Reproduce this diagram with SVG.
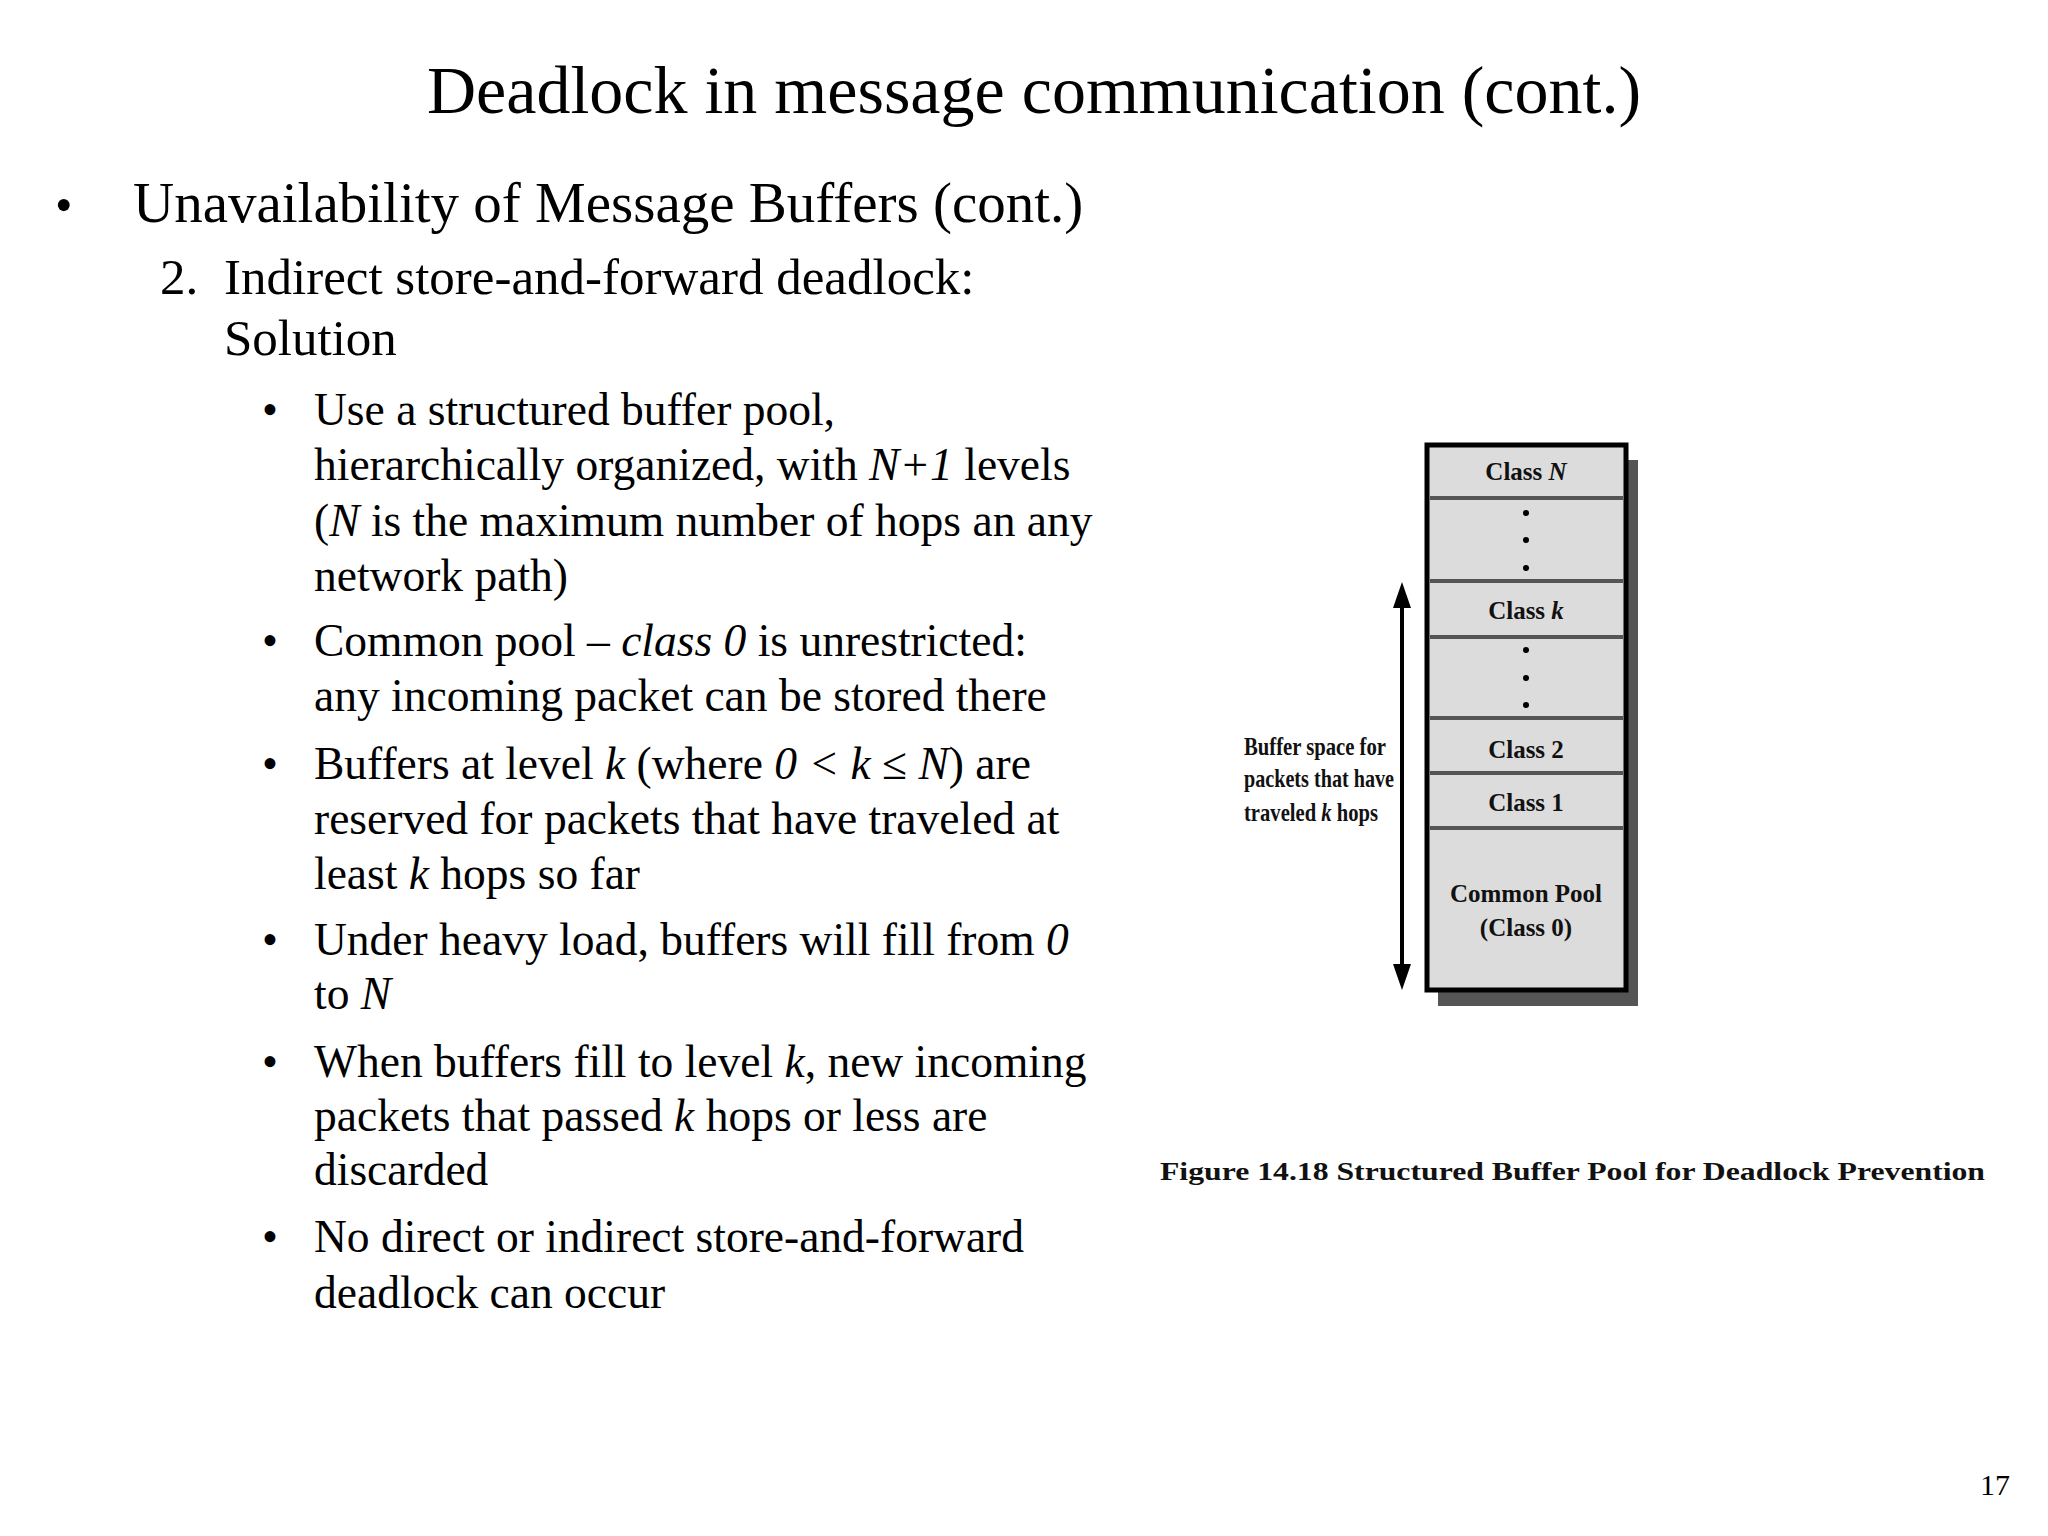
<svg xmlns="http://www.w3.org/2000/svg" width="2048" height="1536" viewBox="0 0 2048 1536">
<style>
.t{font-family:"Liberation Serif","Times New Roman",serif;fill:#000}
.b{font-size:45.5px}
.f{font-family:"Liberation Serif",serif;font-weight:bold;font-size:25px;fill:#111}
.sep{stroke:#555;stroke-width:4}
</style>
<rect width="2048" height="1536" fill="#fff"/>
<text class="t" x="1034" y="113" font-size="68" text-anchor="middle">Deadlock in message communication (cont.)</text>
<text class="t" x="55" y="222" font-size="50">•</text>
<text class="t" x="133" y="222" font-size="57">Unavailability of Message Buffers (cont.)</text>
<g class="t" font-size="51">
<text x="160" y="294">2.</text>
<text x="224" y="294">Indirect store-and-forward deadlock:</text>
<text x="224" y="355">Solution</text>
</g>
<g class="t b">
<text x="262" y="425">•</text><text x="314" y="425">Use a structured buffer pool,</text>
<text x="314" y="480">hierarchically organized, with <tspan font-style="italic">N+1</tspan> levels</text>
<text x="314" y="536">(<tspan font-style="italic">N</tspan> is the maximum number of hops an any</text>
<text x="314" y="591">network path)</text>
<text x="262" y="656">•</text><text x="314" y="656">Common pool – <tspan font-style="italic">class 0</tspan> is unrestricted:</text>
<text x="314" y="711">any incoming packet can be stored there</text>
<text x="262" y="779">•</text><text x="314" y="779">Buffers at level <tspan font-style="italic">k</tspan> (where <tspan font-style="italic">0 &lt; k </tspan>≤<tspan font-style="italic"> N</tspan>) are</text>
<text x="314" y="834">reserved for packets that have traveled at</text>
<text x="314" y="889">least <tspan font-style="italic">k</tspan> hops so far</text>
<text x="262" y="955">•</text><text x="314" y="955">Under heavy load, buffers will fill from <tspan font-style="italic">0</tspan></text>
<text x="314" y="1009">to <tspan font-style="italic">N</tspan></text>
<text x="262" y="1077">•</text><text x="314" y="1077">When buffers fill to level <tspan font-style="italic">k</tspan>, new incoming</text>
<text x="314" y="1131">packets that passed <tspan font-style="italic">k</tspan> hops or less are</text>
<text x="314" y="1185">discarded</text>
<text x="262" y="1252">•</text><text x="314" y="1252">No direct or indirect store-and-forward</text>
<text x="314" y="1308">deadlock can occur</text>
</g>
<g transform="translate(-14,-6)">
<g id="pool">
<rect x="1452" y="466" width="200" height="546" fill="#555"/>
<rect x="1441" y="451" width="199" height="545" fill="#dcdcdc" stroke="#000" stroke-width="5"/>
<line class="sep" x1="1444" y1="504" x2="1637" y2="504"/>
<line class="sep" x1="1444" y1="587" x2="1637" y2="587"/>
<line class="sep" x1="1444" y1="643" x2="1637" y2="643"/>
<line class="sep" x1="1444" y1="724" x2="1637" y2="724"/>
<line class="sep" x1="1444" y1="779" x2="1637" y2="779"/>
<line class="sep" x1="1444" y1="834" x2="1637" y2="834"/>
<g class="f" text-anchor="middle">
<text x="1540" y="486">Class <tspan font-style="italic">N</tspan></text>
<text x="1540" y="625">Class <tspan font-style="italic">k</tspan></text>
<text x="1540" y="764">Class 2</text>
<text x="1540" y="817">Class 1</text>
<text x="1540" y="908">Common Pool</text>
<text x="1540" y="942">(Class 0)</text>
</g>
<g fill="#000">
<circle cx="1540" cy="519" r="3"/><circle cx="1540" cy="546" r="3"/><circle cx="1540" cy="574" r="3"/>
<circle cx="1540" cy="656" r="3"/><circle cx="1540" cy="684" r="3"/><circle cx="1540" cy="711" r="3"/>
</g>
</g>
<g id="connectors">
<line x1="1416" y1="600" x2="1416" y2="984" stroke="#000" stroke-width="4"/>
<polygon points="1416,588 1407,614 1425,614" fill="#000"/>
<polygon points="1416,996 1407,970 1425,970" fill="#000"/>
</g>
<g id="label" class="f" font-size="23">
<text x="1258" y="761" textLength="142" lengthAdjust="spacingAndGlyphs">Buffer space for</text>
<text x="1258" y="793" textLength="150" lengthAdjust="spacingAndGlyphs">packets that have</text>
<text x="1258" y="827" textLength="134" lengthAdjust="spacingAndGlyphs">traveled <tspan font-style="italic">k</tspan> hops</text>
</g>
</g>
<text class="f" x="1160" y="1180" font-size="36" textLength="825" lengthAdjust="spacingAndGlyphs">Figure 14.18  Structured Buffer Pool for Deadlock Prevention</text>
<text class="t" x="1980" y="1495" font-size="30">17</text>
</svg>
